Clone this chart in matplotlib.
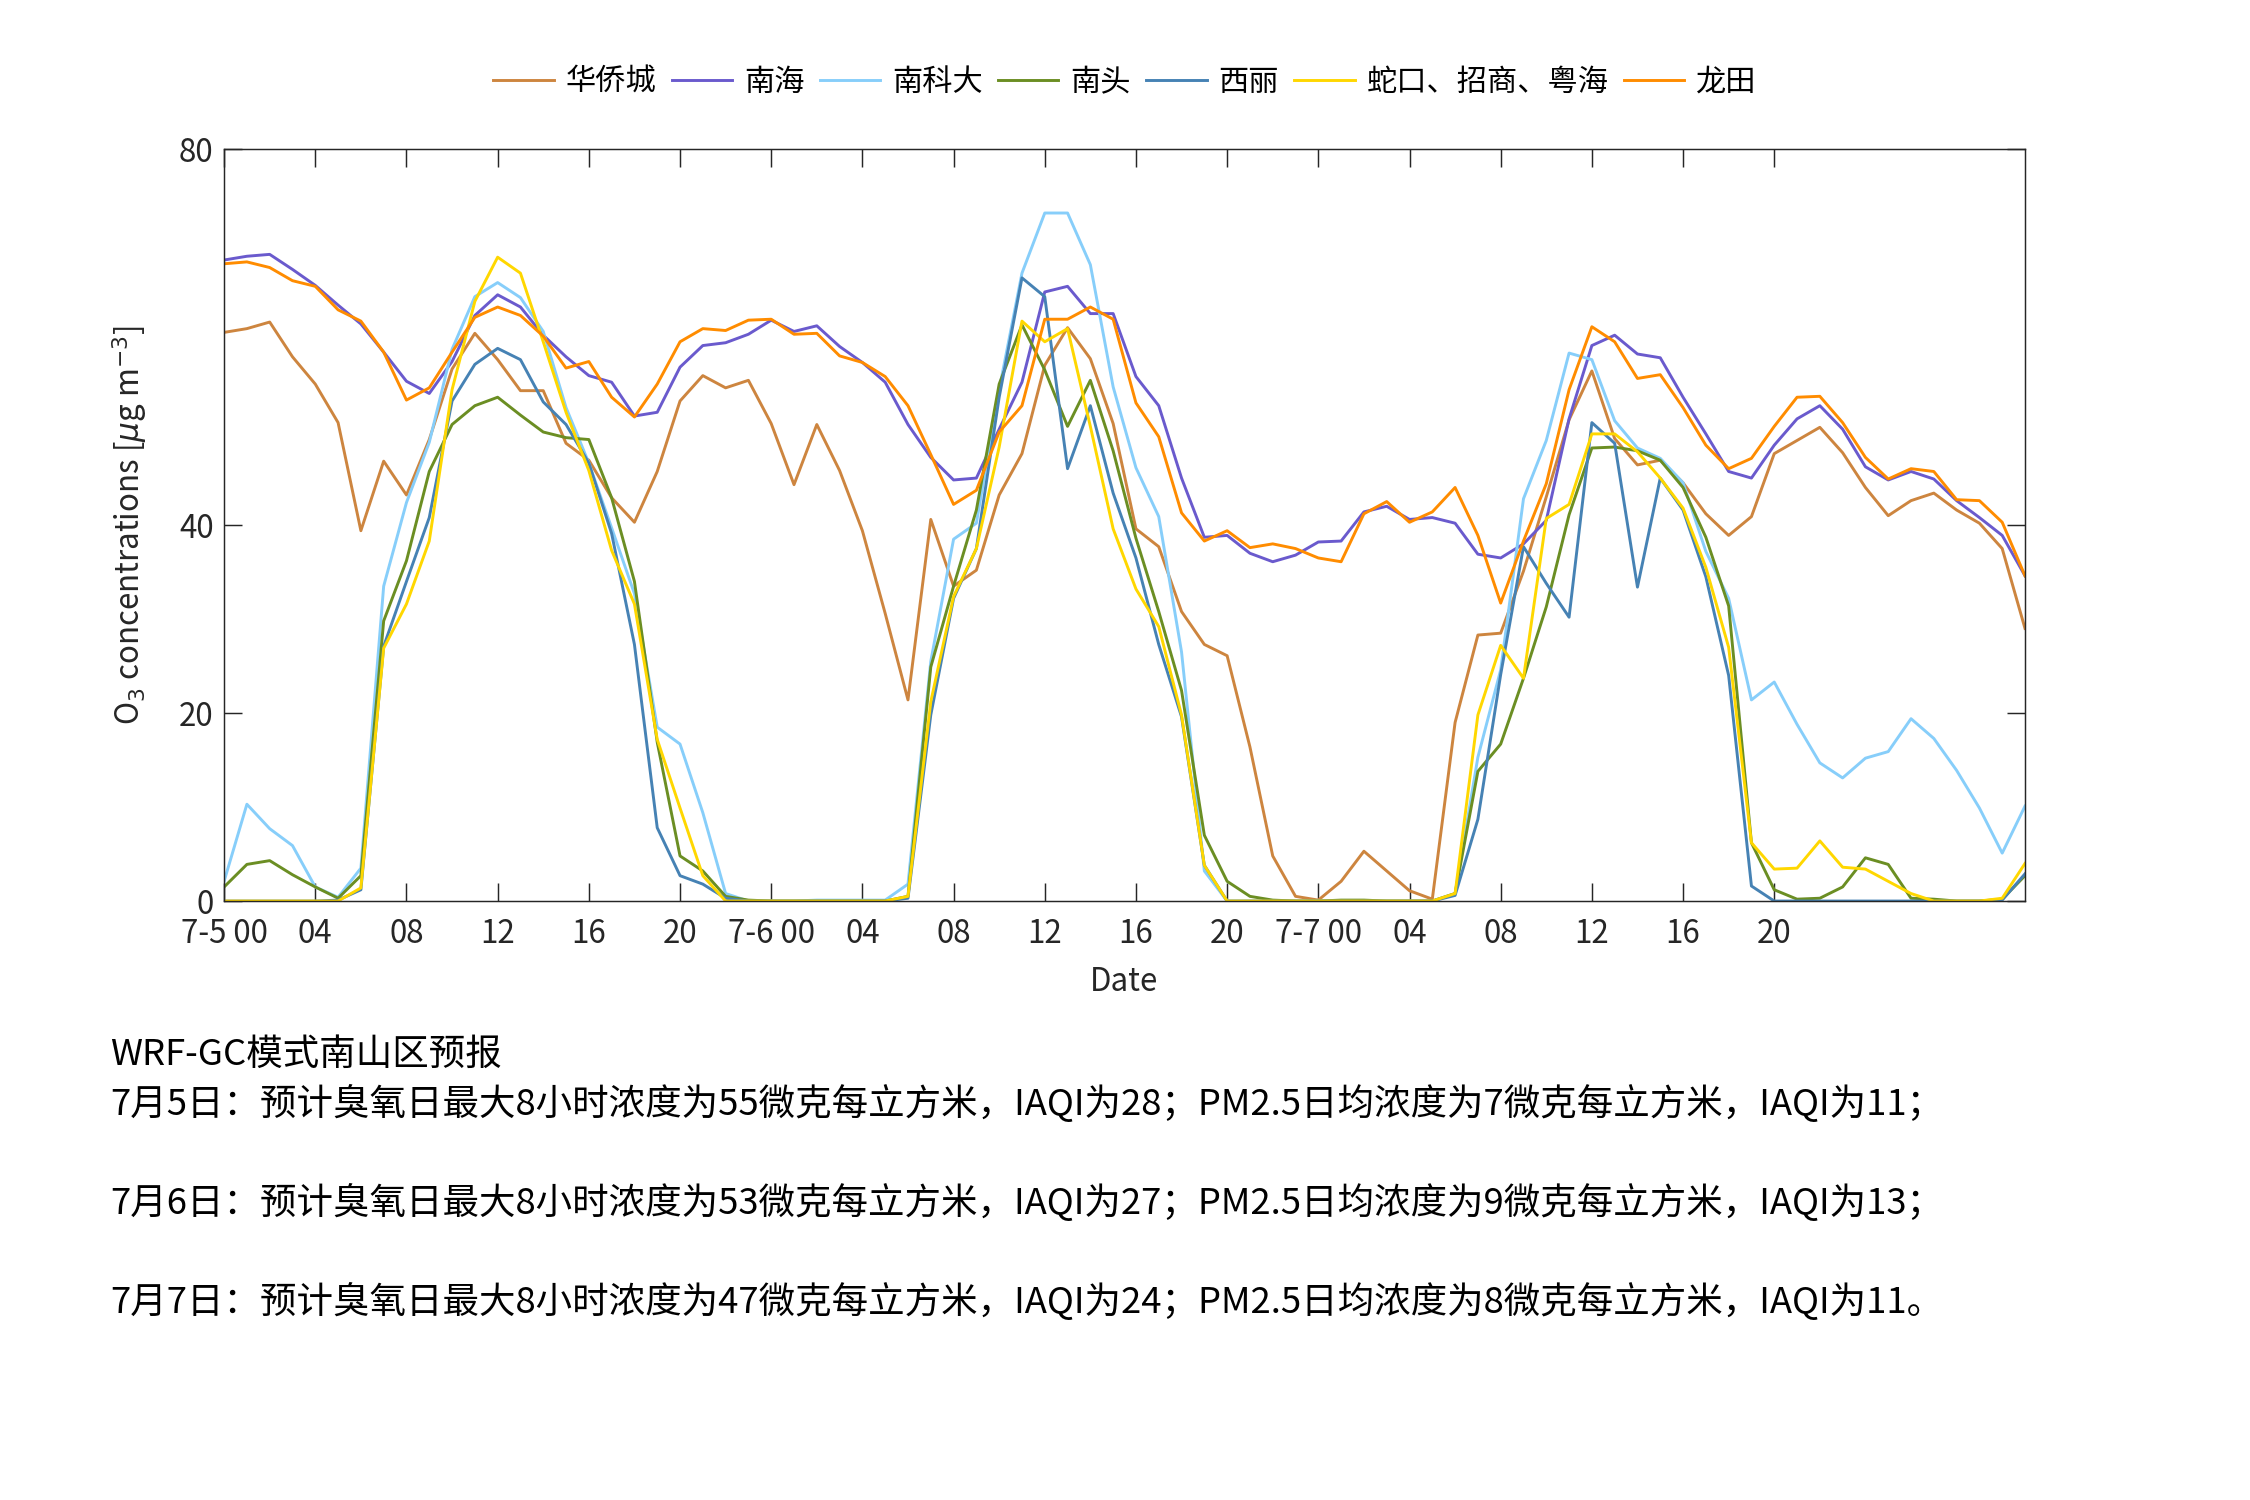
import numpy as np
import matplotlib
matplotlib.use('Agg')
import matplotlib.pyplot as plt

# Hourly O3 forecasts for Nanshan stations, 7-5 00:00 to 7-8 07:00
stations = ['华侨城', '南海', '南科大', '南头', '西丽', '蛇口、招商、粤海', '龙田']
colors = ['#CD853F', '#6A5ACD', '#87CEFA', '#6B8E23', '#4682B4', '#FFD700', '#FF8C00']

huaqiaocheng = [60.5, 60.9, 61.6, 57.9, 55.0, 50.9, 39.4, 46.8, 43.2, 49.1, 56.6, 60.4, 57.6, 54.3,
                54.3, 48.7, 46.9, 42.9, 40.3, 45.7, 53.2, 55.9, 54.6, 55.4, 50.8, 44.3, 50.7,
                45.8, 39.4, 30.6, 21.4, 40.6, 33.5, 35.2, 43.2, 47.6, 57.0, 61.0, 57.7, 50.8,
                39.6, 37.7, 30.8, 27.3, 26.1, 16.4, 4.8, 0.5, 0.1, 2.1, 5.3, 3.2, 1.1,
                0.2, 19.0, 28.3, 28.5, 35.1, 43.0, 51.2, 56.4, 49.2, 46.4, 46.9, 44.5, 41.2,
                38.9, 40.9, 47.6, 49.0, 50.4, 47.7, 44.0, 41.0, 42.6, 43.4, 41.6, 40.2, 37.5, 29.0]
nanhai = [68.2, 68.6, 68.8, 67.2, 65.5, 63.4, 61.4, 58.4, 55.3, 54.0, 57.4, 62.3, 64.5, 63.2,
          60.2, 57.9, 55.9, 55.2, 51.6, 52.0, 56.8, 59.1, 59.4, 60.3, 61.8, 60.6, 61.2,
          59.0, 57.3, 55.2, 50.7, 47.2, 44.8, 45.0, 50.2, 55.2, 64.8, 65.4, 62.5, 62.5,
          55.8, 52.7, 45.0, 38.7, 38.9, 37.0, 36.1, 36.8, 38.2, 38.3, 41.4, 42.0, 40.6,
          40.8, 40.2, 36.9, 36.5, 38.0, 40.5, 51.3, 59.1, 60.2, 58.2, 57.8, 53.6, 49.7,
          45.7, 45.0, 48.5, 51.3, 52.7, 50.2, 46.2, 44.8, 45.7, 44.9, 42.6, 40.8, 38.9, 34.6]
nankeda = [2.1, 10.3, 7.7, 5.9, 1.5, 0.4, 3.5, 33.5, 42.4, 48.8, 58.7, 64.3, 65.8, 64.2,
           60.6, 52.5, 46.6, 39.7, 32.7, 18.5, 16.7, 9.4, 0.8, 0.0, 0.0, 0.0, 0.1,
           0.1, 0.1, 0.1, 1.8, 25.5, 38.5, 40.2, 54.4, 66.8, 73.2, 73.2, 67.7, 54.7,
           46.1, 40.9, 26.5, 3.2, 0.0, 0.0, 0.0, 0.0, 0.0, 0.0, 0.0, 0.0, 0.0,
           0.0, 0.8, 15.3, 24.6, 42.8, 49.0, 58.3, 57.6, 51.1, 48.2, 47.1, 44.5, 37.2,
           32.2, 21.4, 23.3, 18.8, 14.7, 13.1, 15.2, 15.9, 19.4, 17.3, 13.9, 9.9, 5.1, 10.1]
nantou = [1.5, 3.9, 4.3, 2.8, 1.5, 0.3, 2.7, 29.8, 36.2, 45.7, 50.7, 52.7, 53.6, 51.7,
          49.9, 49.3, 49.1, 42.9, 34.0, 16.9, 4.8, 3.2, 0.5, 0.1, 0.0, 0.0, 0.0,
          0.0, 0.0, 0.0, 0.5, 24.9, 33.5, 41.6, 55.0, 61.3, 56.5, 50.5, 55.4, 47.9,
          38.6, 30.8, 22.4, 7.0, 2.1, 0.5, 0.1, 0.0, 0.0, 0.1, 0.1, 0.0, 0.0,
          0.0, 0.8, 13.8, 16.7, 23.7, 31.3, 41.1, 48.2, 48.3, 47.9, 46.9, 44.0, 38.7,
          31.4, 6.2, 1.2, 0.2, 0.3, 1.5, 4.6, 3.9, 0.3, 0.2, 0.0, 0.0, 0.2, 2.7]
xili = [0.0, 0.0, 0.0, 0.0, 0.0, 0.1, 1.2, 27.1, 34.0, 40.8, 53.2, 57.1, 58.8, 57.6,
        53.1, 50.7, 46.6, 39.1, 27.3, 7.8, 2.7, 1.8, 0.3, 0.0, 0.0, 0.0, 0.0,
        0.0, 0.0, 0.0, 0.3, 19.8, 32.2, 37.5, 53.6, 66.3, 64.3, 46.0, 52.7, 43.4,
        36.5, 27.3, 19.6, 3.8, 0.0, 0.0, 0.0, 0.0, 0.0, 0.0, 0.0, 0.0, 0.0,
        0.0, 0.6, 8.7, 24.1, 37.7, 33.8, 30.2, 50.9, 48.7, 33.4, 45.0, 41.6, 34.5,
        24.0, 1.6, 0.0, 0.0, 0.0, 0.0, 0.0, 0.0, 0.0, 0.0, 0.0, 0.0, 0.1, 2.9]
shekou = [0.0, 0.0, 0.0, 0.0, 0.0, 0.0, 1.4, 26.9, 31.6, 38.3, 54.4, 63.8, 68.5, 66.8,
          59.5, 52.0, 45.8, 37.3, 31.6, 17.2, 9.9, 2.7, 0.0, 0.0, 0.0, 0.0, 0.0,
          0.0, 0.0, 0.0, 0.5, 21.2, 32.4, 37.5, 48.3, 61.7, 59.5, 60.9, 50.5, 39.6,
          33.2, 29.2, 19.8, 3.8, 0.0, 0.0, 0.0, 0.0, 0.0, 0.0, 0.0, 0.0, 0.0,
          0.0, 0.8, 19.8, 27.2, 23.7, 40.7, 42.2, 49.7, 49.7, 47.8, 45.0, 41.8, 35.5,
          27.0, 6.2, 3.4, 3.5, 6.4, 3.6, 3.4, 2.1, 0.8, 0.0, 0.0, 0.0, 0.3, 4.0]
longtian = [67.8, 68.0, 67.4, 66.0, 65.4, 62.9, 61.7, 58.4, 53.3, 54.6, 58.4, 62.1, 63.2, 62.3,
            60.1, 56.7, 57.4, 53.6, 51.5, 55.0, 59.5, 60.9, 60.7, 61.8, 61.9, 60.3, 60.4,
            58.0, 57.3, 55.8, 52.7, 47.5, 42.2, 43.7, 49.9, 52.7, 61.9, 61.9, 63.2, 61.9,
            53.0, 49.4, 41.3, 38.3, 39.4, 37.6, 38.0, 37.5, 36.5, 36.1, 41.2, 42.5, 40.3,
            41.4, 44.0, 38.9, 31.7, 38.3, 44.4, 54.4, 61.1, 59.5, 55.6, 56.0, 52.5, 48.5,
            46.0, 47.1, 50.5, 53.6, 53.7, 50.9, 47.2, 44.9, 46.0, 45.7, 42.7, 42.6, 40.3, 34.6]

series = [huaqiaocheng, nanhai, nankeda, nantou, xili, shekou, longtian]

tick_hours = list(range(0, 69, 4))
tick_labels = ['7-5 00', '04', '08', '12', '16', '20',
               '7-6 00', '04', '08', '12', '16', '20',
               '7-7 00', '04', '08', '12', '16', '20']
y_ticks = [0, 20, 40, 80]

forecast_text = ('WRF-GC模式南山区预报\n'
                 '7月5日：预计臭氧日最大8小时浓度为55微克每立方米，IAQI为28；PM2.5日均浓度为7微克每立方米，IAQI为11；\n\n'
                 '7月6日：预计臭氧日最大8小时浓度为53微克每立方米，IAQI为27；PM2.5日均浓度为9微克每立方米，IAQI为13；\n\n'
                 '7月7日：预计臭氧日最大8小时浓度为47微克每立方米，IAQI为24；PM2.5日均浓度为8微克每立方米，IAQI为11。')

plt.rcParams['font.family'] = ['Noto Sans CJK SC', 'DejaVu Sans']
plt.rcParams['axes.unicode_minus'] = False

fig = plt.figure(figsize=(15, 10), dpi=150)
ax = fig.add_axes([0.0996, 0.3993, 0.8004, 0.5013])

hours = np.arange(len(huaqiaocheng))
for name, vals, c in zip(stations, series, colors):
    ax.plot(hours, vals, color=c, linewidth=1.4, label=name)

ax.set_xlim(hours[0], hours[-1])
ax.set_ylim(0, 80)
ax.set_xticks(tick_hours)
ax.set_xticklabels(tick_labels)
ax.set_yticks(y_ticks)
ax.tick_params(direction='in', length=8.5, width=0.7, top=True, right=True,
               labelsize=15, colors='#262626')
ax.tick_params(axis='x', pad=8)
ax.tick_params(axis='y', pad=5)
for sp in ax.spines.values():
    sp.set_linewidth(0.7)
    sp.set_color('#262626')

ax.set_xlabel('Date', fontsize=15, color='#262626', labelpad=8)
ax.set_ylabel('O$_3$ concentrations [$\\mu$g m$^{-3}$]', fontsize=15, color='#262626', labelpad=14)

fig.legend(loc='center', bbox_to_anchor=(0.5, 0.945), ncol=7, frameon=False,
           fontsize=14.5, handlelength=2.0, handletextpad=0.4, columnspacing=0.5)

fig.text(0.049, 0.309, forecast_text, ha='left', va='top', fontsize=17.5,
         linespacing=1.43, color='black')

fig.savefig('out.png', dpi=150)
